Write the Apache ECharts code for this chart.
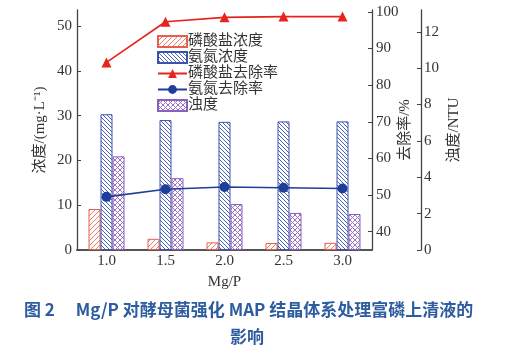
<!DOCTYPE html>
<html><head><meta charset="utf-8">
<script src="https://cdn.jsdelivr.net/npm/echarts@6/dist/echarts.min.js"></script>
<style>html,body{margin:0;padding:0;background:#fff}#c{width:505px;height:355px}</style>
</head><body><div id="c"></div>
<script>
const categories = ['1.0','1.5','2.0','2.5','3.0'];
const phosphateConc = [9.15, 2.5, 1.7, 1.55, 1.6];
const ammoniaConc = [30.3, 29.0, 28.6, 28.7, 28.7];
const phosphateRemoval = [86.2, 97.3, 98.5, 98.7, 98.7];
const ammoniaRemoval = [49.5, 51.6, 52.2, 52.0, 51.8];
const turbidity = [5.15, 3.95, 2.53, 2.04, 1.98];
const leftTicks = [0,10,20,30,40,50];
const rateTicks = [40,50,60,70,80,90,100];
const turbTicks = [0,2,4,6,8,10,12];

function hatch(color, type, s) {
  const c = document.createElement('canvas');
  c.width = s; c.height = s;
  const g = c.getContext('2d');
  g.fillStyle = '#fff'; g.fillRect(0,0,s,s);
  g.strokeStyle = color; g.lineWidth = 1;
  function fwd(){ g.beginPath(); g.moveTo(-1,s+1); g.lineTo(s+1,-1); g.moveTo(-2,2); g.lineTo(2,-2); g.moveTo(s-2,s+2); g.lineTo(s+2,s-2); g.stroke(); }
  function back(){ g.beginPath(); g.moveTo(-1,-1); g.lineTo(s+1,s+1); g.moveTo(-2,s-2); g.lineTo(2,s+2); g.moveTo(s-2,-2); g.lineTo(s+2,2); g.stroke(); }
  if (type === 'f') fwd();
  if (type === 'b') back();
  if (type === 'x') { fwd(); back(); }
  return {image: c, repeat: 'repeat'};
}

const serif = '"Liberation Serif","Times New Roman","Noto Sans CJK SC",serif';
const capFont = '"Noto Sans CJK SC","Noto Sans",sans-serif';
const chart = echarts.init(document.getElementById('c'), null, {renderer:'canvas'});
const axisLineStyle = {color:'#444', width:1.3};
chart.setOption({
  animation:false,
  backgroundColor:'#fff',
  title:[
    {text:'图 2\u3000 Mg/P 对酵母菌强化 MAP 结晶体系处理富磷上清液的', left:24, top:301, padding:0,
     textStyle:{color:'#2d5c9f', fontSize:17, fontWeight:'bold', fontFamily:capFont}},
    {text:'影响', left:230, top:328, padding:0,
     textStyle:{color:'#2d5c9f', fontSize:17, fontWeight:'bold', fontFamily:capFont}}
  ],
  legend:{
    orient:'vertical', left:157, top:34, itemWidth:29, itemHeight:11, itemGap:1, padding:0,
    textStyle:{fontSize:15, lineHeight:15, color:'#333', fontFamily:serif, padding:[0,0,0,-4]},
    data:[{name:'磷酸盐浓度', icon:'rect'},{name:'氨氮浓度', icon:'rect'},'磷酸盐去除率','氨氮去除率',{name:'浊度', icon:'rect'}]
  },
  grid:{left:77, right:133, top:10, bottom:105},
  xAxis:{
    type:'category', data:categories,
    axisLine:{lineStyle:{color:'#555', width:2}},
    axisTick:{show:false},
    axisLabel:{fontSize:15, color:'#333', fontFamily:serif, margin:4},
    name:'Mg/P', nameLocation:'middle', nameGap:25, nameMoveOverlap:false,
    nameTextStyle:{fontSize:15, color:'#333', fontFamily:serif}
  },
  yAxis:[
    {type:'value', min:0, max:53.57, position:'left',
     axisLine:{show:true, lineStyle:axisLineStyle},
     axisTick:{show:true, inside:true, length:4, customValues:leftTicks, lineStyle:{color:'#444'}},
     axisLabel:{customValues:leftTicks, fontSize:15, color:'#333', fontFamily:serif, margin:5},
     splitLine:{show:false},
     name:'浓度/(mg·L⁻¹)', nameLocation:'middle', nameRotate:90, nameGap:29, nameMoveOverlap:false,
     nameTextStyle:{fontSize:15, color:'#333', fontFamily:serif}},
    {type:'value', min:35, max:100.5, position:'right',
     axisLine:{show:true, lineStyle:axisLineStyle},
     axisTick:{show:true, inside:true, length:4, customValues:rateTicks, lineStyle:{color:'#444'}},
     axisLabel:{customValues:rateTicks, fontSize:15, color:'#333', fontFamily:serif, margin:4},
     splitLine:{show:false},
     name:'去除率/%', nameLocation:'middle', nameRotate:90, nameGap:26, nameMoveOverlap:false,
     nameTextStyle:{fontSize:15, color:'#333', fontFamily:serif}},
    {type:'value', min:0, max:13.2, position:'right', offset:49,
     axisLine:{show:true, lineStyle:axisLineStyle},
     axisTick:{show:true, inside:true, length:4, customValues:turbTicks, lineStyle:{color:'#444'}},
     axisLabel:{customValues:turbTicks, fontSize:15, color:'#333', fontFamily:serif, margin:3},
     splitLine:{show:false},
     name:'浊度/NTU', nameLocation:'middle', nameRotate:90, nameGap:26, nameMoveOverlap:false,
     nameTextStyle:{fontSize:15, color:'#333', fontFamily:serif}}
  ],
  series:[
    {name:'磷酸盐浓度', type:'bar', yAxisIndex:0, data:phosphateConc, barWidth:12, barGap:'0%',
     itemStyle:{color:hatch('#f0806e','f',5), borderColor:'#e5604f', borderWidth:1}},
    {name:'氨氮浓度', type:'bar', yAxisIndex:0, data:ammoniaConc, barWidth:12, barGap:'0%',
     itemStyle:{color:hatch('#4b63b5','b',4), borderColor:'#3d52ad', borderWidth:1}},
    {name:'浊度', type:'bar', yAxisIndex:2, data:turbidity, barWidth:12, barGap:'0%',
     itemStyle:{color:hatch('#9a72c6','x',5), borderColor:'#8a60bd', borderWidth:1}},
    {name:'磷酸盐去除率', type:'line', yAxisIndex:1, data:phosphateRemoval, symbol:'triangle', symbolSize:10,
     lineStyle:{color:'#e8221c', width:1.6}, itemStyle:{color:'#e8221c'}, z:5},
    {name:'氨氮去除率', type:'line', yAxisIndex:1, data:ammoniaRemoval, symbol:'circle', symbolSize:10,
     lineStyle:{color:'#1f3e9a', width:1.6}, itemStyle:{color:'#1f3e9a'}, z:5}
  ]
});
</script></body></html>
